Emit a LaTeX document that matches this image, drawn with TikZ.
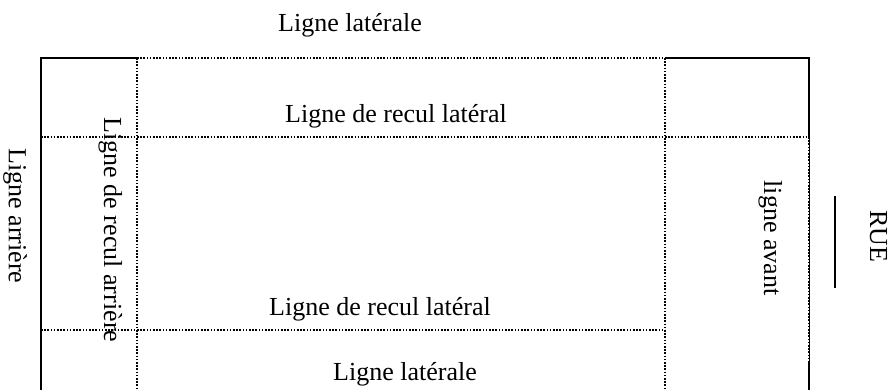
\documentclass[tikz,border=0pt]{standalone}
\usepackage{fontspec}
\setmainfont{Liberation Serif}
\begin{document}
\begin{tikzpicture}[x=1pt,y=-1pt,
  lbl/.style={font=\fontsize{26}{30}\selectfont, inner sep=0pt, anchor=base},
  solidline/.style={line width=2pt},
  thinline/.style={line width=0.6pt},
  dotline/.style={line width=1.8pt, dash pattern=on 1.6pt off 1.6pt}]
\useasboundingbox (0,0) rectangle (890,390);
% corner coordinates
\coordinate (tl) at (41,58);
\coordinate (bl) at (41,390);
\coordinate (t1) at (137,58);
\coordinate (t2) at (665,58);
\coordinate (tr) at (809,58);
\coordinate (r1) at (809,137);
\coordinate (r2) at (809,362);
\coordinate (br) at (809,390);
\coordinate (l1) at (41,137);
\coordinate (l2) at (41,330);
\coordinate (m2) at (665,330);
\coordinate (b1) at (137,390);
\coordinate (b2) at (665,390);
% solid outer lines
\draw[solidline] (bl) -- (tl) -- (t1);
\draw[solidline] (t2) -- (tr) -- (r1);
\draw[solidline] (r2) -- (br);
\draw[thinline] (r1) -- (r2);
% dotted lines
\draw[dotline] (t1) -- (t2);
\draw[dotline] (r1) -- (r2);
\draw[dotline] (l1) -- (r1);
\draw[dotline] (l2) -- (m2);
\draw[dotline] (t1) -- (b1);
\draw[dotline] (t2) -- (b2);
% street line
\coordinate (s1) at (835,196);
\coordinate (s2) at (835,288);
\draw[solidline] (s1) -- (s2);
% labels
\node[lbl] (top) at (350,32) {Ligne latérale};
\node[lbl] (rlt) at (396,123) {Ligne de recul latéral};
\node[lbl] (rlb) at (380,315) {Ligne de recul latéral};
\node[lbl] (bot) at (405,380) {Ligne latérale};
\node[lbl, rotate=-90] (arr) at (9,216) {Ligne arrière};
\node[lbl, rotate=-90] (rarr) at (104,230) {Ligne de recul arrière};
\node[lbl, rotate=-90] (av) at (764,238) {ligne avant};
\node[lbl, rotate=-90] (rue) at (870,236) {RUE};
\end{tikzpicture}
\end{document}
